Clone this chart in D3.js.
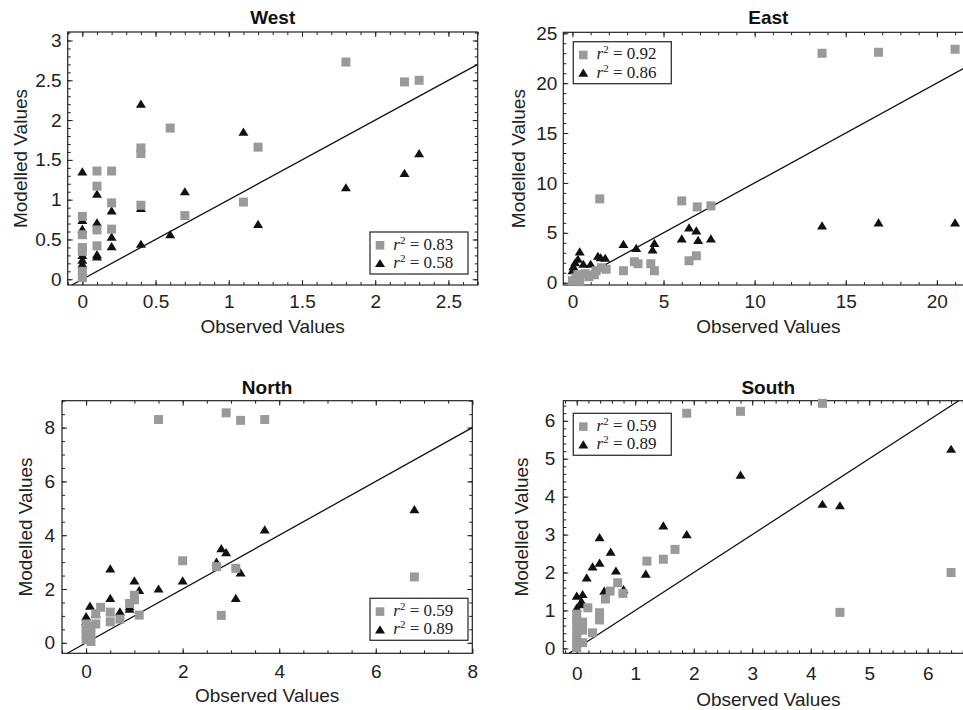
<!DOCTYPE html>
<html>
<head>
<meta charset="utf-8">
<script src="https://cdn.jsdelivr.net/npm/d3@7"></script>
<style>
body { margin: 0; background: #fff; }
svg { display: block; }
</style>
</head>
<body>
<svg id="chart" width="963" height="710"></svg>
<script>
// ---- data (observed vs modelled) ----
var westSqObs  = [0, 0, 0, 0, 0, 0, 0.1, 0.1, 0.1, 0.1, 0.2, 0.2, 0.2, 0.4, 0.4, 0.4, 0.6, 0.7, 1.1, 1.2, 1.8, 2.2, 2.3];
var westSqMod  = [0.79, 0.56, 0.40, 0.35, 0.10, 0.02, 1.36, 1.17, 0.62, 0.42, 1.36, 0.96, 0.63, 1.65, 1.58, 0.93, 1.90, 0.80, 0.97, 1.66, 2.73, 2.48, 2.50];
var westTriObs = [0, 0, 0, 0, 0, 0, 0.1, 0.1, 0.1, 0.1, 0.2, 0.2, 0.2, 0.4, 0.4, 0.4, 0.6, 0.7, 1.1, 1.2, 1.8, 2.2, 2.3];
var westTriMod = [1.35, 0.63, 0.74, 0.30, 0.24, 0.19, 1.07, 0.71, 0.31, 0.28, 0.86, 0.53, 0.41, 2.2, 0.89, 0.44, 0.56, 1.10, 1.85, 0.69, 1.15, 1.33, 1.58];

var eastSqObs  = [0, 0.2, 0.4, 0.3, 0.7, 0.9, 1.2, 1.3, 1.6, 1.85, 1.5, 2.8, 3.4, 3.6, 4.3, 4.5, 6.0, 6.4, 6.8, 6.85, 7.6, 13.7, 16.8, 21.0];
var eastSqMod  = [0.2, 0.5, 0.1, 0.8, 0.9, 0.6, 0.8, 1.2, 1.5, 1.35, 8.4, 1.2, 2.1, 1.9, 1.9, 1.2, 8.2, 2.2, 2.7, 7.6, 7.7, 23.0, 23.1, 23.4];
var eastTriObs = [0, 0.05, 0.15, 0.3, 0.4, 0.6, 1.0, 1.4, 1.55, 1.8, 2.8, 3.5, 4.4, 4.5, 6.0, 6.4, 6.8, 6.9, 7.6, 13.7, 16.8, 21.0];
var eastTriMod = [1.2, 1.6, 2.0, 2.35, 3.1, 1.85, 1.85, 2.65, 2.5, 2.45, 3.85, 3.45, 3.3, 3.95, 4.4, 5.5, 5.2, 4.25, 4.4, 5.7, 6.0, 6.0];

var northSqObs  = [0, 0, 0, 0, 0.05, 0.1, 0.1, 0.1, 0.2, 0.2, 0.3, 0.5, 0.5, 0.7, 0.9, 1.0, 1.0, 1.1, 1.5, 2.0, 2.7, 2.8, 2.9, 3.1, 3.2, 3.7, 6.8];
var northSqMod  = [0.7, 0.5, 0.35, 0.12, 0.25, 0.6, 0.3, 0.05, 1.07, 0.7, 1.32, 1.14, 0.78, 0.88, 1.46, 1.77, 1.6, 1.03, 8.3, 3.05, 2.83, 1.02, 8.55, 2.77, 8.27, 8.3, 2.45];
var northTriObs = [0, 0, 0.08, 0.2, 0.5, 0.5, 0.7, 0.9, 0.9, 1.0, 1.1, 1.5, 2.0, 2.7, 2.8, 2.9, 3.1, 3.2, 3.7, 6.8];
var northTriMod = [0.8, 0.97, 1.36, 1.07, 2.75, 1.65, 1.15, 1.34, 1.25, 2.3, 1.95, 2.0, 2.3, 3.0, 3.5, 3.35, 1.65, 2.6, 4.2, 4.95];

var southSqObs  = [0, 0, 0, 0, 0, 0, 0, 0.1, 0.1, 0.1, 0.19, 0.27, 0.39, 0.39, 0.49, 0.57, 0.7, 0.79, 1.2, 1.48, 1.68, 1.88, 2.8, 4.2, 4.5, 6.4];
var southSqMod  = [0.9, 0.75, 0.6, 0.45, 0.3, 0.15, 0.02, 0.69, 0.48, 0.15, 1.07, 0.41, 0.94, 0.75, 1.3, 1.51, 1.73, 1.45, 2.3, 2.35, 2.61, 6.2, 6.25, 6.46, 0.95, 2.0];
var southTriObs = [0, 0, 0.08, 0.08, 0.1, 0.17, 0.27, 0.39, 0.39, 0.47, 0.58, 0.67, 0.8, 1.18, 1.48, 1.88, 2.8, 4.2, 4.5, 6.4];
var southTriMod = [1.38, 1.06, 1.24, 1.15, 1.42, 1.86, 2.15, 2.25, 2.92, 1.51, 2.54, 2.04, 1.55, 1.96, 3.23, 3.0, 4.57, 3.8, 3.76, 5.25];

var titles = ["West", "East", "North", "South"];
var r2Square   = ["0.83", "0.92", "0.59", "0.59"];
var r2Triangle = ["0.58", "0.86", "0.89", "0.89"];

var westXTicks = [0, 0.5, 1, 1.5, 2, 2.5], westYTicks = [0, 0.5, 1, 1.5, 2, 2.5, 3];
var eastXTicks = [0, 5, 10, 15, 20], eastYTicks = [0, 5, 10, 15, 20, 25];
var northXTicks = [0, 2, 4, 6, 8], northYTicks = [0, 2, 4, 6, 8];
var southXTicks = [0, 1, 2, 3, 4, 5, 6], southYTicks = [0, 1, 2, 3, 4, 5, 6];

// ---- layout of the four panels ----
var panels = [
  { sq: [westSqObs, westSqMod], tri: [westTriObs, westTriMod], xt: westXTicks, yt: westYTicks,
    l: 67.7, t: 32, w: 410, h: 253, xd: [-0.1, 2.7], yd: [-0.072, 3.107], xm: 0.1, ym: 0.1,
    leg: [370, 232], titleY: 24, xLabY: 333, yLabX: 27, xPad: 9.5, yPad: 6 },
  { sq: [eastSqObs, eastSqMod], tri: [eastTriObs, eastTriMod], xt: eastXTicks, yt: eastYTicks,
    l: 563.3, t: 32.3, w: 410, h: 252.7, xd: [-0.5, 22], yd: [-0.23, 25.1], xm: 1, ym: 1,
    leg: [573.3, 41.7], titleY: 24, xLabY: 333, yLabX: 525, xPad: 9.5, yPad: 6 },
  { sq: [northSqObs, northSqMod], tri: [northTriObs, northTriMod], xt: northXTicks, yt: northYTicks,
    l: 62, t: 400.7, w: 410.3, h: 252.6, xd: [-0.5, 8], yd: [-0.39, 9.0], xm: 0.5, ym: 0.5,
    leg: [370, 598.3], titleY: 394, xLabY: 702, yLabX: 32, xPad: 11.5, yPad: 7 },
  { sq: [southSqObs, southSqMod], tri: [southTriObs, southTriMod], xt: southXTicks, yt: southYTicks,
    l: 563.3, t: 400.7, w: 410, h: 252.6, xd: [-0.23, 6.78], yd: [-0.13, 6.53], xm: 0.2, ym: 0.2,
    leg: [573.3, 413.3], titleY: 394, xLabY: 706, yLabX: 528, xPad: 13.5, yPad: 8 }
];

var sans = "'Liberation Sans', Arial, Helvetica, sans-serif";
var serif = "'Liberation Serif', 'Times New Roman', serif";
var grey = "#9a9a9a", ink = "#111";
var triPath = "M0,-4.6L5,3.6L-5,3.6Z";
var fmt = d3.format("~g");

var svg = d3.select("#chart");

function minorTicks(dom, step) {
  var a = Math.ceil(dom[0] / step - 1e-9), b = Math.floor(dom[1] / step + 1e-9);
  return d3.range(a, b + 1).map(function (k) { return +(k * step).toFixed(6); });
}

function stripDomain(g) { g.select(".domain").remove(); }

panels.forEach(function (p, i) {
  var x = d3.scaleLinear().domain(p.xd).range([0, p.w]);
  var y = d3.scaleLinear().domain(p.yd).range([p.h, 0]);
  var g = svg.append("g").attr("transform", "translate(" + p.l + "," + p.t + ")");

  g.append("clipPath").attr("id", "clip" + i)
    .append("rect").attr("width", p.w).attr("height", p.h);

  // minor ticks, all four sides, pointing in
  var xMin = minorTicks(p.xd, p.xm), yMin = minorTicks(p.yd, p.ym);
  g.append("g").attr("transform", "translate(0," + p.h + ")")
    .call(d3.axisBottom(x).tickValues(xMin).tickSize(-3).tickFormat("")).call(stripDomain);
  g.append("g").call(d3.axisTop(x).tickValues(xMin).tickSize(-3).tickFormat("")).call(stripDomain);
  g.append("g").call(d3.axisLeft(y).tickValues(yMin).tickSize(-3).tickFormat("")).call(stripDomain);
  g.append("g").attr("transform", "translate(" + p.w + ",0)")
    .call(d3.axisRight(y).tickValues(yMin).tickSize(-3).tickFormat("")).call(stripDomain);

  // major ticks + labels
  g.append("g").attr("class", "xa").attr("transform", "translate(0," + p.h + ")")
    .call(d3.axisBottom(x).tickValues(p.xt).tickSize(-5).tickPadding(p.xPad).tickFormat(fmt)).call(stripDomain);
  g.append("g").call(d3.axisTop(x).tickValues(p.xt).tickSize(-5).tickFormat("")).call(stripDomain);
  g.append("g").attr("class", "ya")
    .call(d3.axisLeft(y).tickValues(p.yt).tickSize(-5).tickPadding(p.yPad).tickFormat(fmt)).call(stripDomain);
  g.append("g").attr("transform", "translate(" + p.w + ",0)")
    .call(d3.axisRight(y).tickValues(p.yt).tickSize(-5).tickFormat("")).call(stripDomain);

  g.selectAll(".tick line").attr("stroke", "#222");
  g.selectAll(".tick text").attr("fill", "#222").style("font-family", sans).style("font-size", "19px");

  // frame
  g.append("rect").attr("width", p.w).attr("height", p.h)
    .attr("fill", "none").attr("stroke", "#222").attr("stroke-width", 1.2);

  // 1:1 line
  var lo = Math.max(p.xd[0], p.yd[0]), hi = Math.min(p.xd[1], p.yd[1]);
  g.append("line").attr("clip-path", "url(#clip" + i + ")")
    .attr("x1", x(lo)).attr("y1", y(lo)).attr("x2", x(hi)).attr("y2", y(hi))
    .attr("stroke", "#111").attr("stroke-width", 1.3);

  // triangles first, squares on top
  g.append("g").selectAll("path").data(d3.range(p.tri[0].length)).enter().append("path")
    .attr("d", triPath).attr("fill", ink)
    .attr("transform", function (k) { return "translate(" + x(p.tri[0][k]) + "," + y(p.tri[1][k]) + ")"; });
  g.append("g").selectAll("rect").data(d3.range(p.sq[0].length)).enter().append("rect")
    .attr("width", 9).attr("height", 9).attr("fill", grey)
    .attr("x", function (k) { return x(p.sq[0][k]) - 4.5; })
    .attr("y", function (k) { return y(p.sq[1][k]) - 4.5; });

  // titles and axis labels
  svg.append("text").attr("x", p.l + p.w / 2).attr("y", p.titleY)
    .attr("text-anchor", "middle").style("font-family", sans).style("font-size", "19px")
    .style("font-weight", "bold").attr("fill", "#111").text(titles[i]);
  svg.append("text").attr("x", p.l + p.w / 2).attr("y", p.xLabY)
    .attr("text-anchor", "middle").style("font-family", sans).style("font-size", "19px")
    .attr("fill", "#222").text("Observed Values");
  svg.append("text").attr("transform", "translate(" + p.yLabX + "," + (p.t + p.h / 2) + ") rotate(-90)")
    .attr("text-anchor", "middle").style("font-family", sans).style("font-size", "19px")
    .attr("fill", "#222").text("Modelled Values");

  // legend
  var lg = svg.append("g").attr("transform", "translate(" + p.leg[0] + "," + p.leg[1] + ")");
  lg.append("rect").attr("width", 98).attr("height", 42)
    .attr("fill", "#fff").attr("stroke", "#333").attr("stroke-width", 1.3);
  lg.append("rect").attr("x", 10 - 4.3).attr("y", 13.3 - 4.3).attr("width", 8.6).attr("height", 8.6).attr("fill", grey);
  lg.append("path").attr("d", triPath).attr("fill", ink).attr("transform", "translate(10,31.5)");
  [r2Square[i], r2Triangle[i]].forEach(function (v, j) {
    var t = lg.append("text").attr("x", 23.3).attr("y", 17.5 + j * 18.4)
      .style("font-family", serif).style("font-size", "17px").attr("fill", "#222");
    t.append("tspan").style("font-style", "italic").text("r");
    t.append("tspan").attr("dy", -6).style("font-size", "11px").text("2");
    t.append("tspan").attr("dy", 6).text(" = " + v);
  });
});
</script>
</body>
</html>
